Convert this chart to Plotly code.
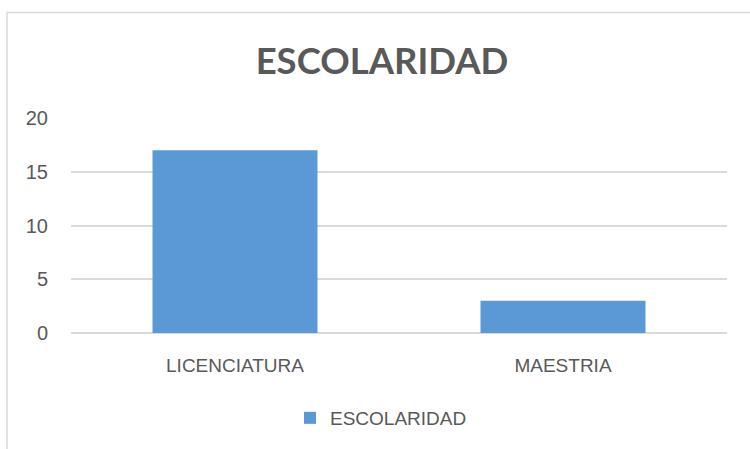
import plotly.graph_objects as go

categories = ["LICENCIATURA", "MAESTRIA"]
values = [17, 3]
series_name = "ESCOLARIDAD"
chart_title = "ESCOLARIDAD"
y_ticks = [0, 5, 10, 15, 20]

W, H = 750, 449
ml, mr, mt, mb = 71, 23, 118, 116
pw, ph = W - ml - mr, H - mt - mb

FONT = "Liberation Sans, Arial, sans-serif"
TFONT = "Lato, Liberation Sans, sans-serif"
TXT = "#595959"
GRID = "#D9D9D9"

fig = go.Figure()
fig.add_trace(go.Bar(
    x=categories, y=values, name=series_name,
    marker=dict(color="#5A99D6", line=dict(width=0)),
    width=0.503, showlegend=True,
))

# outer chart frame (decoration)
fig.add_shape(type="rect", xref="paper", yref="paper",
              x0=(7 - ml) / pw, x1=1.2, y0=-0.8, y1=(H - mb - 12.5) / ph,
              line=dict(color=GRID, width=1.5), layer="below")

fig.update_layout(
    width=W, height=H,
    margin=dict(l=ml, r=mr, t=mt, b=mb),
    paper_bgcolor="white", plot_bgcolor="white",
    font=dict(family=FONT, color=TXT, size=19),
    title=dict(text="<b>" + chart_title + "</b>", x=382 / W, xanchor="center",
               y=1 - 61 / H, yanchor="middle", yref="container",
               font=dict(size=36.5, color=TXT, family=TFONT)),
    showlegend=True,
    legend=dict(orientation="h", x=(381 - ml) / pw, xanchor="center",
                y=(H - mb - 418) / ph, yanchor="middle",
                font=dict(size=19, color=TXT), bgcolor="rgba(0,0,0,0)"),
    bargap=0.497,
)
fig.update_yaxes(range=[0, 20], tickvals=y_ticks, showgrid=True, gridcolor=GRID,
                 gridwidth=1.5, zeroline=True, zerolinecolor=GRID, zerolinewidth=1.5,
                 showline=False, ticks="", ticklabelstandoff=22,
                 tickfont=dict(size=20, color=TXT))
fig.update_xaxes(showgrid=False, showline=False, ticks="", ticklabelstandoff=19,
                 tickfont=dict(size=19, color=TXT))

fig.write_html("out.html", config={"displayModeBar": False},
               post_script="document.body.style.margin='0';")
